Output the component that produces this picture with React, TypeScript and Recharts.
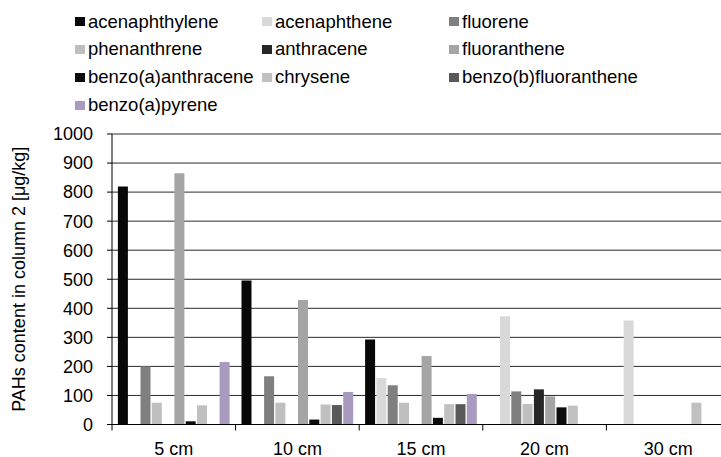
import React from 'react';
import { BarChart, Bar, XAxis, YAxis, CartesianGrid } from 'recharts';

const depths = ['5 cm', '10 cm', '15 cm', '20 cm', '30 cm'];

const acenaphthylene = [819, 496, 293, null, null];
const acenaphthene = [null, null, 160, 373, 358];
const fluorene = [200, 166, 135, 114, null];
const phenanthrene = [75, 75, 75, 71, null];
const anthracene = [null, null, null, 121, null];
const fluoranthene = [865, 429, 236, 97, null];
const benzoAAnthracene = [11, 17, 23, 59, null];
const chrysene = [66, 69, 70, 65, 75];
const benzoBFluoranthene = [null, 67, 70, null, null];
const benzoAPyrene = [215, 112, 105, null, null];

const yTicks = [0, 100, 200, 300, 400, 500, 600, 700, 800, 900, 1000];

const series = [
  { key: 'acenaphthylene', values: acenaphthylene, color: '#080808' },
  { key: 'acenaphthene', values: acenaphthene, color: '#d9d9d9' },
  { key: 'fluorene', values: fluorene, color: '#7f7f7f' },
  { key: 'phenanthrene', values: phenanthrene, color: '#bfbfbf' },
  { key: 'anthracene', values: anthracene, color: '#262626' },
  { key: 'fluoranthene', values: fluoranthene, color: '#a5a5a5' },
  { key: 'benzo(a)anthracene', values: benzoAAnthracene, color: '#0c0c0c' },
  { key: 'chrysene', values: chrysene, color: '#c0c0c0' },
  { key: 'benzo(b)fluoranthene', values: benzoBFluoranthene, color: '#595959' },
  { key: 'benzo(a)pyrene', values: benzoAPyrene, color: '#a89bbf' },
];

const data = depths.map((depth, i) => {
  const row: Record<string, any> = { depth };
  series.forEach((s) => {
    row[s.key] = s.values[i];
  });
  return row;
});

const FONT = '"Liberation Sans", Arial, sans-serif';
const CHART_W = 740;
const CHART_H = 457;
const MARGIN = { top: 134, right: 10, bottom: 2.5, left: 0 };
const Y_W = 112;
const BAND = (CHART_W - MARGIN.left - MARGIN.right - Y_W) / depths.length;

const DepthTick = (props: any) => {
  const { x, y, payload } = props;
  const half = payload && payload.offset ? payload.offset : BAND / 2;
  return (
    <g>
      <line x1={x - half} y1={y} x2={x - half} y2={y + 6} stroke="#000" strokeWidth={1} />
      <text x={x} y={y + 30} textAnchor="middle" fontSize={18} fontFamily={FONT} fill="#000">
        {payload.value}
      </text>
    </g>
  );
};

const YTitle = (props: any) => {
  const vb = props.viewBox || { x: 0, y: 0, width: 0, height: 0 };
  const cx = vb.x + 19;
  const cy = vb.y + vb.height / 2;
  return (
    <text
      x={cx}
      y={cy}
      transform={`rotate(-90 ${cx} ${cy})`}
      textAnchor="middle"
      dominantBaseline="central"
      fontSize={18}
      fontFamily={FONT}
      fill="#000"
    >
      PAHs content in column 2 [μg/kg]
    </text>
  );
};

function ChartLegend() {
  return (
    <div
      style={{
        position: 'absolute',
        left: 75,
        top: 7.8,
        display: 'grid',
        gridTemplateColumns: '187px 187px 200px',
        gridAutoRows: '27.8px',
        fontFamily: FONT,
        fontSize: 18.5,
        color: '#000',
      }}
    >
      {series.map((s) => (
        <div key={s.key} style={{ display: 'flex', alignItems: 'center', whiteSpace: 'nowrap' }}>
          <span style={{ width: 10, height: 9, background: s.color, marginRight: 3, display: 'inline-block' }} />
          {s.key}
        </div>
      ))}
    </div>
  );
}

export default function App() {
  return (
    <div
      style={{
        position: 'absolute',
        left: 0,
        top: 0,
        width: 721,
        height: 457,
        overflow: 'hidden',
        background: '#fff',
      }}
    >
      <BarChart
        width={CHART_W}
        height={CHART_H}
        data={data}
        margin={MARGIN}
        barCategoryGap={5.9}
        barGap={1.3}
      >
        <CartesianGrid vertical={false} stroke="#2a2a2a" strokeWidth={1} />
        <XAxis
          dataKey="depth"
          axisLine={{ stroke: '#000' }}
          tickLine={false}
          tickSize={0}
          tickMargin={0}
          height={30}
          interval={0}
          tick={<DepthTick />}
        />
        <YAxis
          width={Y_W}
          domain={[0, 1000]}
          ticks={yTicks}
          interval={0}
          axisLine={{ stroke: '#000' }}
          tickLine={{ stroke: '#000' }}
          tickSize={5}
          tickMargin={14}
          tick={{ fontSize: 18, fontFamily: FONT, fill: '#000' }}
          label={{ content: <YTitle /> }}
        />
        {series.map((s) => (
          <Bar key={s.key} dataKey={s.key} fill={s.color} isAnimationActive={false} />
        ))}
      </BarChart>
      <ChartLegend />
    </div>
  );
}
